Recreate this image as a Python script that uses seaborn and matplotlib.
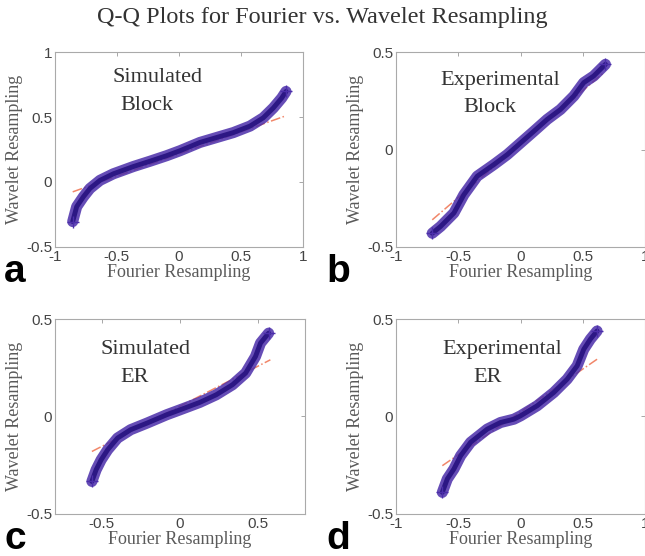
import matplotlib
matplotlib.use('Agg')
import seaborn as sns
import matplotlib.pyplot as plt
from matplotlib.ticker import FormatStrFormatter

# Quantile pairs (Fourier quantile, Wavelet quantile)
a_x = [-0.856, -0.824, -0.77, -0.717, -0.636, -0.529, -0.368, -0.234, -0.099, 0.008,
       0.169, 0.303, 0.438, 0.572, 0.679, 0.76, 0.827, 0.862]
a_y = [-0.305, -0.19, -0.114, -0.05, 0.013, 0.063, 0.119, 0.16, 0.203, 0.241,
       0.305, 0.343, 0.381, 0.431, 0.495, 0.571, 0.647, 0.698]
a_ref_x = [-0.856, 0.854]
a_ref_y = [-0.076, 0.508]

b_x = [-0.709, -0.642, -0.535, -0.455, -0.348, -0.214, -0.107, 0.0, 0.107, 0.214,
       0.321, 0.428, 0.508, 0.588, 0.682]
b_y = [-0.43, -0.395, -0.326, -0.232, -0.137, -0.077, -0.026, 0.034, 0.094, 0.155,
       0.206, 0.275, 0.344, 0.378, 0.438]
b_ref_x = [-0.709, 0.668]
b_ref_y = [-0.361, 0.395]

c_x = [-0.563, -0.536, -0.504, -0.462, -0.399, -0.315, -0.21, -0.084, 0.0, 0.126,
       0.231, 0.336, 0.42, 0.483, 0.515, 0.567]
c_y = [-0.334, -0.274, -0.223, -0.171, -0.111, -0.068, -0.034, 0.009, 0.034, 0.072,
       0.111, 0.163, 0.223, 0.308, 0.377, 0.428]
c_ref_x = [-0.563, 0.578]
c_ref_y = [-0.18, 0.291]

d_x = [-0.628, -0.588, -0.535, -0.481, -0.401, -0.267, -0.16, -0.053, 0.0, 0.134,
       0.267, 0.374, 0.455, 0.508, 0.561, 0.615]
d_y = [-0.39, -0.321, -0.27, -0.202, -0.133, -0.065, -0.031, -0.014, 0.003, 0.055,
       0.123, 0.191, 0.26, 0.345, 0.397, 0.439]
d_ref_x = [-0.628, 0.615]
d_ref_y = [-0.253, 0.294]

panels = [
    # data, ref line, xlim, ylim, xticks, yticks, label lines, letter, axes rect
    (a_x, a_y, a_ref_x, a_ref_y, (-1, 1), (-0.5, 1), [-1, -0.5, 0, 0.5, 1], [-0.5, 0, 0.5, 1],
     ['Simulated', 'Block'], 'a', [0.085, 0.556, 0.385, 0.350]),
    (b_x, b_y, b_ref_x, b_ref_y, (-1, 1), (-0.5, 0.5), [-1, -0.5, 0, 0.5, 1], [-0.5, 0, 0.5],
     ['Experimental', 'Block'], 'b', [0.614, 0.556, 0.386, 0.350]),
    (c_x, c_y, c_ref_x, c_ref_y, (-0.8, 0.8), (-0.5, 0.5), [-0.5, 0, 0.5], [-0.5, 0, 0.5],
     ['Simulated', 'ER'], 'c', [0.085, 0.076, 0.388, 0.350]),
    (d_x, d_y, d_ref_x, d_ref_y, (-1, 1), (-0.5, 0.5), [-1, -0.5, 0, 0.5, 1], [-0.5, 0, 0.5],
     ['Experimental', 'ER'], 'd', [0.614, 0.076, 0.386, 0.350]),
]

# text positions in figure pixels (left x, top y) for the two annotation lines
text_pos = {
    'a': [(112, 68), (120, 96)],
    'b': [(440, 71), (463, 98)],
    'c': [(100, 340), (120, 368)],
    'd': [(442, 340), (473, 368)],
}
letter_pos = {'a': (4, 282), 'b': (326, 282), 'c': (4, 549), 'd': (326, 549)}

sns.set_style('white')
plt.rcParams['axes.unicode_minus'] = False

W, H = 645, 556
fig = plt.figure(figsize=(6.45, 5.56), dpi=100)

serif = 'Liberation Serif'
sans = 'Liberation Sans'
band_col = '#4b2eaa'
core_col = '#2c1784'
ref_col = '#f07a5a'

for (px, py, rx, ry, xl, yl, xt, yt, lines, letter, rect) in panels:
    ax = fig.add_axes(rect)
    # reference line sits under the data band, showing mostly at the tails
    sns.lineplot(x=rx, y=ry, ax=ax, sort=False, color=ref_col, linewidth=1.1,
                 linestyle='-.', alpha=0.9, zorder=1)
    sns.lineplot(x=px, y=py, ax=ax, sort=False, color=band_col, linewidth=8,
                 solid_capstyle='round', alpha=0.85, zorder=2)
    sns.lineplot(x=px, y=py, ax=ax, sort=False, color=core_col, linewidth=3.5,
                 zorder=3)
    sns.scatterplot(x=[px[0], px[-1]], y=[py[0], py[-1]], ax=ax, marker='+', s=70,
                    color=band_col, linewidth=1.0, zorder=4)
    ax.set_xlim(*xl)
    ax.set_ylim(*yl)
    ax.set_xticks(xt)
    ax.set_yticks(yt)
    ax.xaxis.set_major_formatter(FormatStrFormatter('%g'))
    ax.yaxis.set_major_formatter(FormatStrFormatter('%g'))
    ax.tick_params(direction='in', length=3, width=0.6, color='#999999',
                   labelsize=11, labelcolor='#444444', top=True, right=True, pad=2)
    for t in ax.get_xticklabels() + ax.get_yticklabels():
        t.set_fontfamily(sans)
    for s in ax.spines.values():
        s.set_color('#aaaaaa')
        s.set_linewidth(0.8)
    ax.set_xlabel('Fourier Resampling', fontfamily=serif, fontsize=13,
                  color='#5a5a5a', labelpad=0)
    ax.set_ylabel('Wavelet Resampling', fontfamily=serif, fontsize=13,
                  color='#5a5a5a', labelpad=2)
    for (tx, ty), s in zip(text_pos[letter], lines):
        fig.text(tx / W, 1 - ty / H, s, fontfamily=serif, fontsize=16,
                 color='#333333', ha='left', va='top')
    lx, ly = letter_pos[letter]
    fig.text(lx / W, 1 - ly / H, letter, fontfamily=sans, fontsize=28,
             fontweight='bold', color='black', ha='left', va='baseline')

fig.text(0.5, 1 - 7 / H, 'Q-Q Plots for Fourier vs. Wavelet Resampling',
         fontfamily=serif, fontsize=17.5, color='#333333', ha='center', va='top')

fig.savefig('out.png', dpi=100)
